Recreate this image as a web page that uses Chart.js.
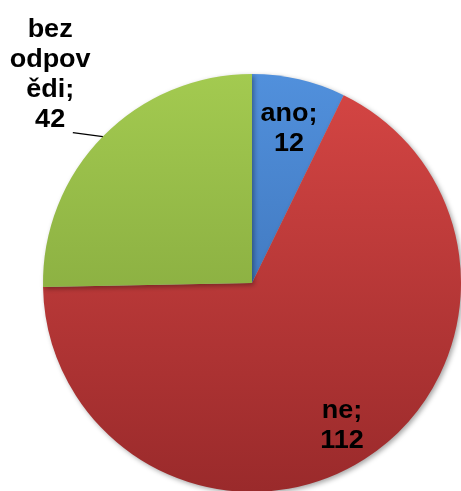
<!DOCTYPE html>
<html>
<head>
<meta charset="utf-8">
<script src="https://cdn.jsdelivr.net/npm/chart.js@4/dist/chart.umd.min.js"></script>
<style>
  html, body { margin: 0; padding: 0; background: #fff; overflow: hidden; }
  #wrap { position: relative; width: 461px; height: 500px; }
</style>
</head>
<body>
<div id="wrap"><canvas id="c" width="461" height="500"></canvas></div>
<script>
// ---- data ----
const categories = ["ano", "ne", "bez odpovědi"];
const values = [12, 112, 42];
// label text lines as shown in the chart
const labelLines = [["ano;", "12"], ["ne;", "112"], ["bez", "odpov", "ědi;", "42"]];

// ---- styling ----
const gradStops = [
  ["#5190dc", "#3466a8"],
  ["#d64644", "#9a2a2b"],
  ["#a3ca50", "#789a36"]
];
const labelRadius = [0.765, 0.80, 1.38];
const labelShift = [[1, 2], [0, 2], [4, -6]];
const leader = [null, null, [1.0, 1.21]];

function makeFill(ctx) {
  const chart = ctx.chart;
  const area = chart.chartArea;
  if (!area) return gradStops[ctx.dataIndex][0];
  const g = chart.ctx.createLinearGradient(0, area.top, 0, area.bottom);
  g.addColorStop(0, gradStops[ctx.dataIndex][0]);
  g.addColorStop(1, gradStops[ctx.dataIndex][1]);
  return g;
}

const shadowPlugin = {
  id: 'shadow',
  beforeDatasetsDraw(chart) {
    const c = chart.ctx;
    c.save();
    c.shadowColor = 'rgba(0,0,0,0.35)';
    c.shadowBlur = 5;
    c.shadowOffsetX = 2;
    c.shadowOffsetY = 2;
  },
  afterDatasetsDraw(chart) {
    chart.ctx.restore();
  }
};

const labelPlugin = {
  id: 'pieLabels',
  afterDraw(chart) {
    const c = chart.ctx;
    const meta = chart.getDatasetMeta(0);
    c.save();
    c.font = 'bold 25px "Liberation Sans", Arial, sans-serif';
    c.fillStyle = '#000';
    c.textAlign = 'center';
    c.textBaseline = 'middle';
    const lh = 30;
    meta.data.forEach((arc, i) => {
      const mid = (arc.startAngle + arc.endAngle) / 2;
      const R = arc.outerRadius;
      const cx = arc.x + Math.cos(mid) * R * labelRadius[i] + labelShift[i][0];
      const cy = arc.y + Math.sin(mid) * R * labelRadius[i] + labelShift[i][1];
      const lines = labelLines[i];
      const top = cy - (lines.length - 1) * lh / 2;
      lines.forEach((t, k) => {
        c.save();
        c.translate(cx, top + k * lh);
        c.scale(1.08, 1);
        c.fillText(t, 0, 0);
        c.restore();
      });
      if (leader[i]) {
        const x1 = arc.x + Math.cos(mid) * R * leader[i][0];
        const y1 = arc.y + Math.sin(mid) * R * leader[i][0];
        const x2 = x1 - 30;
        const y2 = y1 - 4;
        c.strokeStyle = '#000';
        c.lineWidth = 1.5;
        c.beginPath();
        c.moveTo(x1, y1);
        c.lineTo(x2, y2);
        c.stroke();
      }
    });
    c.restore();
  }
};

new Chart(document.getElementById('c'), {
  type: 'pie',
  data: {
    labels: categories,
    datasets: [{
      data: values,
      backgroundColor: makeFill,
      borderWidth: 0
    }]
  },
  options: {
    responsive: false,
    animation: false,
    layout: { padding: { top: 74, left: 43, right: 0, bottom: 8 } },
    plugins: {
      legend: { display: false },
      tooltip: { enabled: false }
    }
  },
  plugins: [shadowPlugin, labelPlugin]
});
</script>
</body>
</html>
